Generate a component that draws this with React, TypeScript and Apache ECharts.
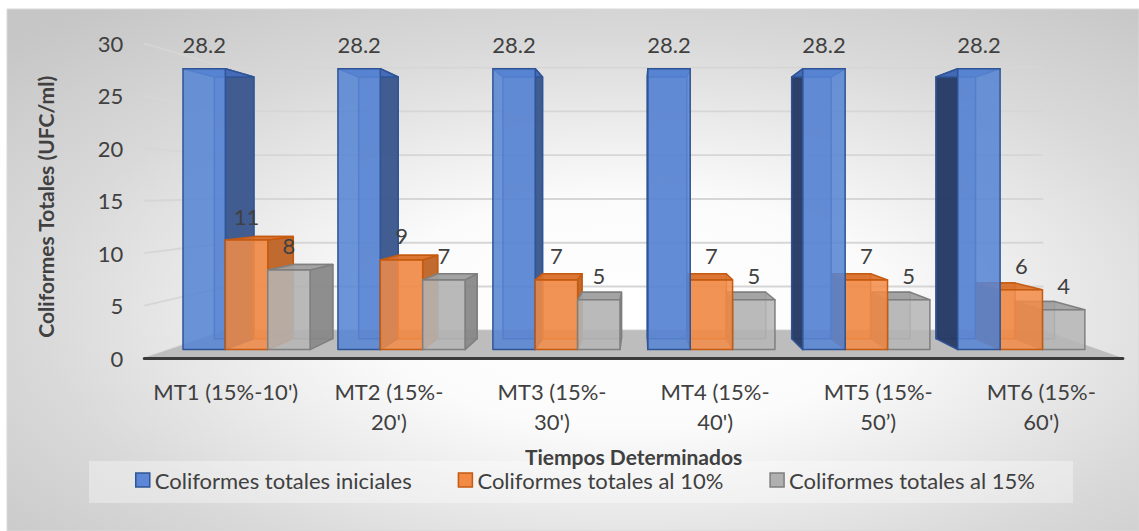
import React, { useEffect, useRef } from 'react';
import * as echarts from 'echarts';

// ---------------- data ----------------
const categories = ["MT1 (15%-10')", "MT2 (15%-20')", "MT3 (15%-30')", "MT4 (15%-40')", "MT5 (15%-50’)", "MT6 (15%-60')"];
const seriesNames = ['Coliformes totales iniciales', 'Coliformes totales al 10%', 'Coliformes totales al 15%'];
const inicialesValues = [28.2, 28.2, 28.2, 28.2, 28.2, 28.2];
const al10Values = [11, 9, 7, 7, 7, 6];
const al15Values = [8, 7, 5, 5, 5, 4];
const yTicks = [0, 5, 10, 15, 20, 25, 30];
const yTitle = 'Coliformes Totales (UFC/ml)';
const xTitle = 'Tiempos Determinados';

// ---------------- style / layout ----------------
const FONT = 'Lato';
const TXT = '#404040';
const VP = [641, 190];
const K_FRONT = 0.05;
const K_BACK = 0.115;
const K_WALL = 0.165;
const BAR_RATIO = 0.2735;

const PAL = [
  { front: 'rgba(88,133,212,0.88)', sideR: 'rgba(58,86,140,0.93)', sideL: 'rgba(38,58,100,0.95)', top: 'rgba(70,110,190,0.9)', back: 'rgba(70,105,175,0.45)', edge: '#2f5597', legend: '#5b87d6' },
  { front: 'rgba(242,140,72,0.86)', sideR: 'rgba(190,98,35,0.9)', sideL: 'rgba(170,85,25,0.92)', top: 'rgba(218,112,42,0.92)', back: 'rgba(200,100,35,0.4)', edge: '#c55a11', legend: '#f08a45' },
  { front: 'rgba(182,182,182,0.86)', sideR: 'rgba(135,135,135,0.9)', sideL: 'rgba(120,120,120,0.92)', top: 'rgba(160,160,160,0.92)', back: 'rgba(140,140,140,0.4)', edge: '#7f7f7f', legend: '#b0b0b0' },
];

function proj(x: number, y: number, k: number): number[] {
  return [x + k * (VP[0] - x), y + k * (VP[1] - y)];
}

function makeBarRenderer(si: number) {
  return (params: any, api: any) => {
    const cat = api.value(0);
    const v = api.value(1);
    const p0 = api.coord([cat, 0]);
    const p1 = api.coord([cat, v]);
    const bw = api.size([1, 0])[0] * BAR_RATIO;
    const xl = p0[0] + (si - 1.5) * bw;
    const xr = xl + bw;
    const yb = p0[1];
    const yt = p1[1];
    const fLB = proj(xl, yb, K_FRONT), fRB = proj(xr, yb, K_FRONT), fRT = proj(xr, yt, K_FRONT), fLT = proj(xl, yt, K_FRONT);
    const bLB = proj(xl, yb, K_BACK), bRB = proj(xr, yb, K_BACK), bRT = proj(xr, yt, K_BACK), bLT = proj(xl, yt, K_BACK);
    const c = PAL[si];
    const rightSide = (fLB[0] + fRB[0]) / 2 < VP[0];
    const order = rightSide ? si : 2 - si;
    const zb = 10 + order * 10;
    const edge = { stroke: c.edge, lineWidth: 1.5, lineJoin: 'round' };
    const side = rightSide
      ? [fRT, bRT, bRB, fRB]
      : [fLT, bLT, bLB, fLB];
    return {
      type: 'group',
      children: [
        { type: 'polygon', z2: zb + 1, shape: { points: [bLB, bRB, bRT, bLT] }, style: { fill: c.back, ...edge } },
        { type: 'polygon', z2: zb + 2, shape: { points: side }, style: { fill: rightSide ? c.sideR : c.sideL, ...edge } },
        { type: 'polygon', z2: zb + 3, shape: { points: [fLT, fRT, bRT, bLT] }, style: { fill: c.top, ...edge } },
        { type: 'polygon', z2: zb + 4, shape: { points: [fLB, fRB, fRT, fLT] }, style: { fill: c.front, ...edge } },
        {
          type: 'text', z2: 200,
          x: (fLT[0] + fRT[0]) / 2, y: fLT[1] - 24,
          style: { text: String(v), fill: TXT, font: `22px ${FONT}`, align: 'center', verticalAlign: 'middle' },
        },
      ],
    };
  };
}

function renderWalls(params: any, api: any) {
  const t = api.value(1);
  const cs = params.coordSys;
  const xL = cs.x;
  const xR = cs.x + cs.width;
  const y = api.coord([0, t])[1];
  const bl = proj(xL, y, K_WALL);
  const br = proj(xR, y, K_WALL);
  const children: any[] = [
    { type: 'line', z2: 1, shape: { x1: xL, y1: y, x2: bl[0], y2: bl[1] }, style: { stroke: '#d6d6d6', lineWidth: 1.8 } },
    { type: 'line', z2: 1, shape: { x1: bl[0], y1: bl[1], x2: br[0], y2: br[1] }, style: { stroke: '#d6d6d6', lineWidth: 1.8 } },
  ];
  if (t === 0) {
    children.push({ type: 'polygon', z2: 2, shape: { points: [[xL, y], [xR, y], br, bl] }, style: { fill: '#bdbdbd' } });
  }
  return { type: 'group', children };
}

export default function App() {
  const ref = useRef<HTMLDivElement>(null);
  useEffect(() => {
    document.body.style.margin = '0';
    document.documentElement.style.overflow = 'hidden';
    const chart = echarts.init(ref.current!, null, { renderer: 'svg' });
    const valuesList = [inicialesValues, al10Values, al15Values];
    const option: any = {
      animation: false,
      textStyle: { fontFamily: FONT },
      graphic: {
        elements: [
          {
            type: 'rect', z: -10, silent: true,
            shape: { x: 7, y: 9, width: 1132, height: 522 },
            style: {
              fill: new echarts.graphic.RadialGradient(0.55, 0.58, 0.75, [
                { offset: 0, color: '#ffffff' },
                { offset: 0.3, color: '#fbfbfb' },
                { offset: 0.7, color: '#d9d9d9' },
                { offset: 1, color: '#c6c6c6' },
              ]),
              stroke: '#d9d9d9', lineWidth: 1,
            },
          },
          {
            type: 'rect', z: -9, silent: true,
            shape: { x: 89, y: 461, width: 984, height: 42 },
            style: { fill: 'rgba(255,255,255,0.35)' },
          },
        ],
      },
      grid: { left: 144.25, right: 16.15, top: 43.5, bottom: 173 },
      xAxis: {
        type: 'category',
        data: categories,
        z: 5,
        axisLine: { lineStyle: { color: '#3a3a3a', width: 3 } },
        axisTick: { show: false },
        axisLabel: {
          interval: 0, color: TXT, fontSize: 22, fontFamily: FONT, lineHeight: 30, margin: 18,
          formatter: (v: string, i: number) => (i === 0 ? v : v.replace('-', '-\n')),
        },
        name: xTitle,
        nameLocation: 'middle',
        nameGap: 88,
        nameTextStyle: { fontWeight: 'bold', fontSize: 21, color: TXT, fontFamily: FONT },
      },
      yAxis: {
        type: 'value', min: 0, max: 30, interval: 5,
        axisLine: { show: false }, axisTick: { show: false }, splitLine: { show: false },
        axisLabel: { color: TXT, fontSize: 22, fontFamily: FONT, margin: 21 },
        name: yTitle,
        nameLocation: 'middle',
        nameRotate: 90,
        nameGap: 88,
        nameTextStyle: { fontWeight: 'bold', fontSize: 21, color: TXT, fontFamily: FONT, padding: [0, 12, 0, 0] },
      },
      legend: {
        data: seriesNames.map((n, i) => ({ name: n, itemStyle: { color: PAL[i].legend, borderColor: PAL[i].edge, borderWidth: 1.5 } })),
        left: 135, top: 469, padding: 0, itemWidth: 14, itemHeight: 14, itemGap: 46, icon: 'rect',
        selectedMode: false,
        textStyle: { fontFamily: FONT, fontSize: 22, color: TXT },
      },
      series: [
        {
          type: 'custom', name: 'walls', z: 1, silent: true,
          data: yTicks.map((t) => [0, t]),
          encode: { x: 0, y: 1 },
          renderItem: renderWalls,
        },
        ...seriesNames.map((n, si) => ({
          type: 'custom', name: n, z: 2, silent: true,
          itemStyle: { color: PAL[si].legend, borderColor: PAL[si].edge },
          data: valuesList[si].map((v, i) => [i, v]),
          encode: { x: 0, y: 1 },
          renderItem: makeBarRenderer(si),
        })),
      ],
    };
    chart.setOption(option);
    return () => chart.dispose();
  }, []);
  return <div ref={ref} style={{ width: 1139, height: 531 }} />;
}
